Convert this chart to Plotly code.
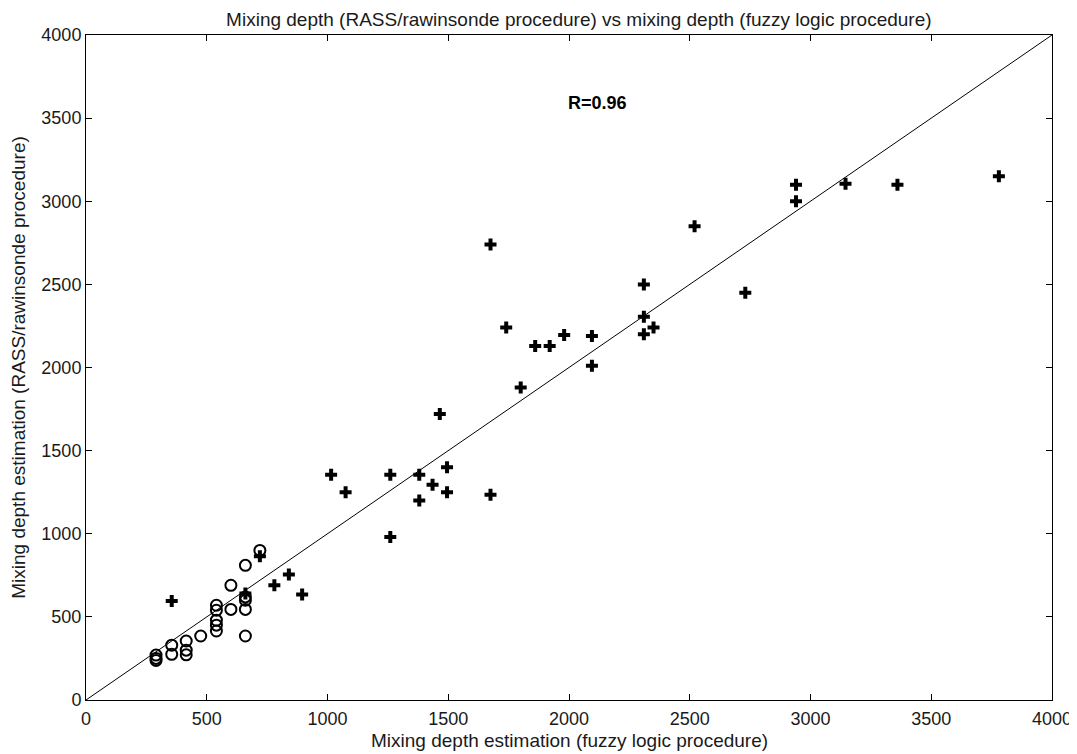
import plotly.graph_objects as go

# Fuzzy-logic (x) vs RASS/rawinsonde (y) mixing depths — filled crosses
cross_x = [355, 720, 780, 840, 660, 895, 1015, 1075, 1260, 1260, 1380, 1380, 1435, 1495, 1495,
           1465, 1675, 1675, 1740, 1800, 1860, 1920, 1980, 2095, 2095, 2310, 2310, 2350, 2310,
           2520, 2730, 2940, 2940, 3145, 3360, 3780]
cross_y = [595, 865, 690, 755, 640, 635, 1355, 1250, 1355, 980, 1355, 1200, 1295, 1400, 1250,
           1720, 1235, 2740, 2240, 1880, 2130, 2130, 2195, 2190, 2010, 2305, 2200, 2240, 2500,
           2850, 2450, 3100, 3000, 3105, 3100, 3150]

# open circles
circ_x = [290, 290, 290, 355, 355, 415, 415, 415, 475, 540, 540, 540, 540, 540,
          600, 600, 660, 660, 660, 660, 660, 720]
circ_y = [270, 250, 238, 330, 275, 355, 300, 272, 385, 570, 540, 480, 450, 415,
          690, 545, 810, 620, 600, 545, 385, 900]

line_x = [0, 4000]
line_y = [0, 4000]

ticks = [0, 500, 1000, 1500, 2000, 2500, 3000, 3500, 4000]

font = "Liberation Sans, Arial, sans-serif"
txt = "#1a1a1a"

fig = go.Figure()
fig.add_trace(go.Scatter(x=line_x, y=line_y, mode="lines",
                         line=dict(color="black", width=1), hoverinfo="skip"))
fig.add_trace(go.Scatter(x=circ_x, y=circ_y, mode="markers",
                         marker=dict(symbol="circle-open", size=11, color="black",
                                     line=dict(width=2, color="black"))))
fig.add_trace(go.Scatter(x=cross_x, y=cross_y, mode="markers",
                         marker=dict(symbol="cross", size=10, color="black",
                                     line=dict(width=0))))

fig.add_annotation(x=2120, y=3594, text="<b>R=0.96</b>", showarrow=False,
                   font=dict(family=font, size=18, color="black"))

# x-axis title
fig.add_annotation(xref="paper", yref="paper", x=0.5, y=-0.0602, yanchor="middle",
                   text="Mixing depth estimation (fuzzy logic procedure)", showarrow=False,
                   font=dict(family=font, size=19, color=txt))

axis_common = dict(range=[0, 4000], tickvals=ticks, showgrid=False, zeroline=False,
                   showline=True, linecolor="black", linewidth=1, mirror="ticks",
                   ticks="inside", ticklen=6, tickcolor="black", automargin=False,
                   tickfont=dict(family=font, size=18, color=txt))

# page body has an 8px margin, so the figure is sized/offset to compensate
fig.update_layout(
    width=1069, height=746,
    margin=dict(l=78, r=25, t=27, b=54),
    paper_bgcolor="white", plot_bgcolor="white",
    showlegend=False,
    title=dict(text="Mixing depth (RASS/rawinsonde procedure) vs mixing depth (fuzzy logic procedure)",
               x=0.534, xanchor="center", y=0.9853, yanchor="middle",
               font=dict(family=font, size=19, color=txt)),
    xaxis=dict(**axis_common, ticklabelstandoff=2),
    yaxis=dict(**axis_common,
               title=dict(text="Mixing depth estimation (RASS/rawinsonde procedure)", standoff=10,
                          font=dict(family=font, size=19, color=txt))),
)

fig.write_html("out.html")
